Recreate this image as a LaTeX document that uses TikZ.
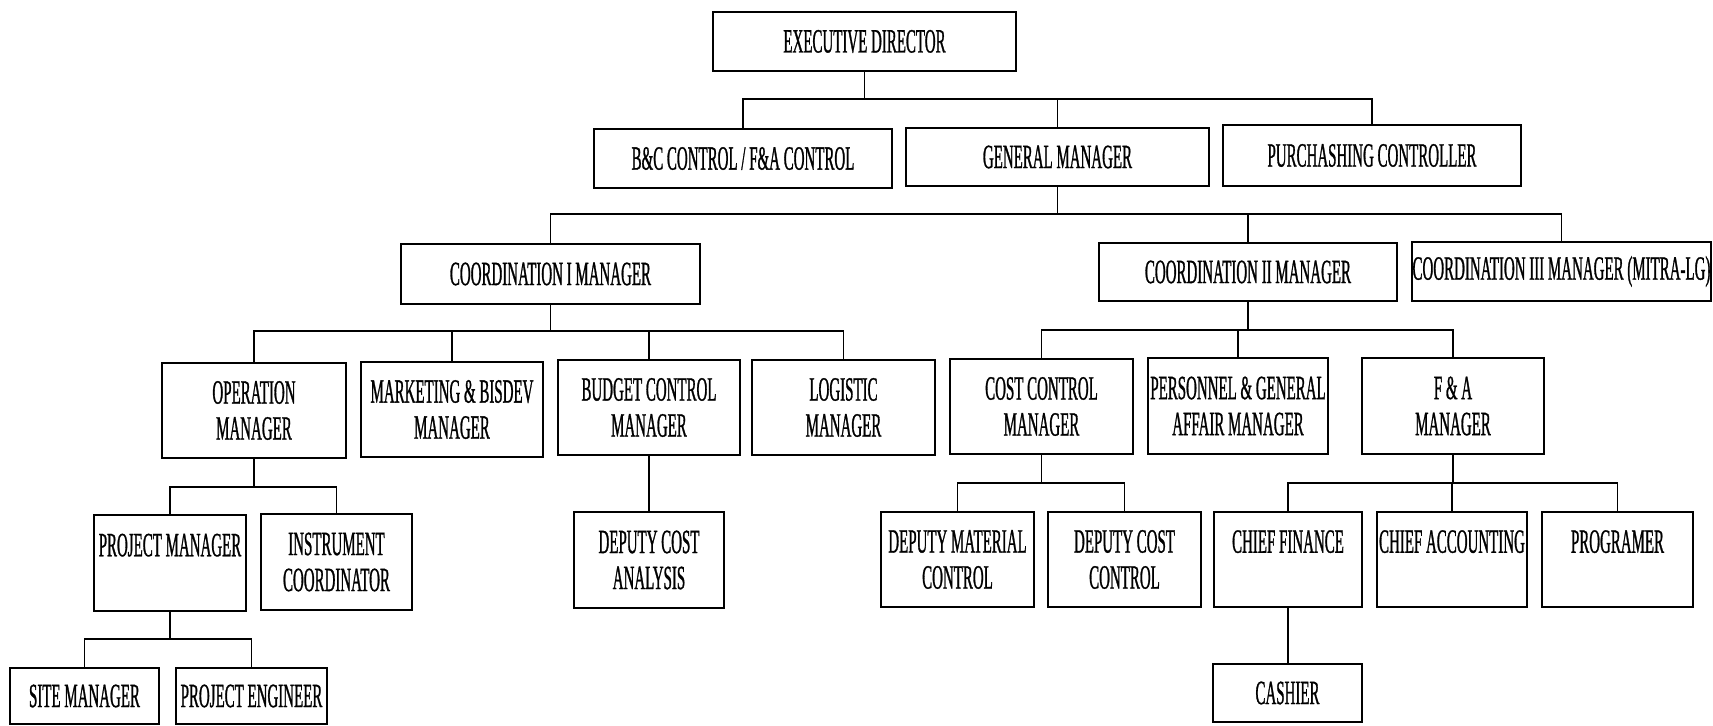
\documentclass[tikz,border=0pt]{standalone}
\usepackage{fontspec}
\setmainfont{Liberation Serif}[FakeStretch=0.44, FakeBold=0.8]
\tikzset{
  box/.style={draw, line width=0.9pt, inner sep=0pt, align=center,
    font=\fontsize{17}{18}\selectfont},
  link/.style={line width=0.9pt},
}
\newcommand\bx[6]{\node[box, minimum width={(#4-#2)*0.5pt}, minimum height={(#5-#3)*0.5pt}] (#1) at ({(#2+#4)/2},{(#3+#5)/2}) {#6};}
\newcommand\busline[4]{%
  \draw[link] (#1.south) -- (#1.south |- #2);
  \draw[link] (#3.north) -- (#3.north |- #2) -- (#4.north |- #2) -- (#4.north);}
\newcommand\drop[2]{\draw[link] (#1.north) -- (#1.north |- #2);}
\begin{document}
\begin{tikzpicture}[x=0.5pt, y=-0.5pt]
\useasboundingbox (0,0) rectangle (1713,726);
% level 0
\bx{ed}{713}{12}{1016}{71}{EXECUTIVE DIRECTOR}
% level 1
\bx{bc}{594}{129}{892}{188}{B\&C CONTROL / F\&A CONTROL}
\bx{gm}{906}{128}{1209}{186}{GENERAL MANAGER}
\bx{pc}{1223}{125}{1521}{186}{PURCHASHING CONTROLLER}
% level 2
\bx{ci}{401}{244}{700}{304}{COORDINATION I MANAGER}
\bx{cii}{1099}{243}{1397}{301}{COORDINATION II MANAGER}
\bx{ciii}{1412}{242}{1711}{301}{COORDINATION III MANAGER (MITRA-LG)}
% level 3
\bx{op}{162}{363}{346}{458}{OPERATION\\MANAGER}
\bx{mk}{361}{362}{543}{457}{MARKETING \& BISDEV\\MANAGER}
\bx{bu}{558}{360}{740}{455}{BUDGET CONTROL\\MANAGER}
\bx{lo}{752}{360}{935}{455}{LOGISTIC\\MANAGER}
\bx{cc}{950}{359}{1133}{454}{COST CONTROL\\MANAGER}
\bx{pa}{1148}{358}{1328}{454}{PERSONNEL \& GENERAL\\AFFAIR MANAGER}
\bx{fa}{1362}{358}{1544}{454}{F \& A\\MANAGER}
% level 4
\bx{pm}{94}{515}{246}{611}{PROJECT MANAGER\\\mbox{}}
\bx{ic}{261}{514}{412}{610}{INSTRUMENT\\COORDINATOR}
\bx{dca}{574}{512}{724}{608}{DEPUTY COST\\ANALYSIS}
\bx{dmc}{881}{512}{1034}{607}{DEPUTY MATERIAL\\CONTROL}
\bx{dcc}{1048}{512}{1201}{607}{DEPUTY COST\\CONTROL}
\bx{cf}{1214}{512}{1362}{607}{CHIEF FINANCE\\\mbox{}}
\bx{ca}{1377}{512}{1527}{607}{CHIEF ACCOUNTING\\\mbox{}}
\bx{pr}{1542}{512}{1693}{607}{PROGRAMER\\\mbox{}}
% level 5
\bx{sm}{10}{668}{159}{724}{SITE MANAGER}
\bx{pen}{176}{668}{327}{724}{PROJECT ENGINEER}
\bx{cs}{1213}{664}{1362}{722}{CASHIER}
% bus coordinates
\coordinate (y1) at (0,99);
\coordinate (y2) at (0,214);
\coordinate (y3a) at (0,331);
\coordinate (y3b) at (0,330);
\coordinate (y4a) at (0,487);
\coordinate (y4b) at (0,483);
\coordinate (y5) at (0,639);
% connectors
\busline{ed}{y1}{bc}{pc}
\drop{gm}{y1}
\busline{gm}{y2}{ci}{ciii}
\drop{cii}{y2}
\busline{ci}{y3a}{op}{lo}
\drop{mk}{y3a}
\drop{bu}{y3a}
\busline{cii}{y3b}{cc}{fa}
\drop{pa}{y3b}
\busline{op}{y4a}{pm}{ic}
\draw[link] (bu.south) -- (bu.south |- dca.north);
\busline{cc}{y4b}{dmc}{dcc}
\busline{fa}{y4b}{cf}{pr}
\drop{ca}{y4b}
\busline{pm}{y5}{sm}{pen}
\draw[link] (cf.south) -- (cf.south |- cs.north);
\end{tikzpicture}
\end{document}
